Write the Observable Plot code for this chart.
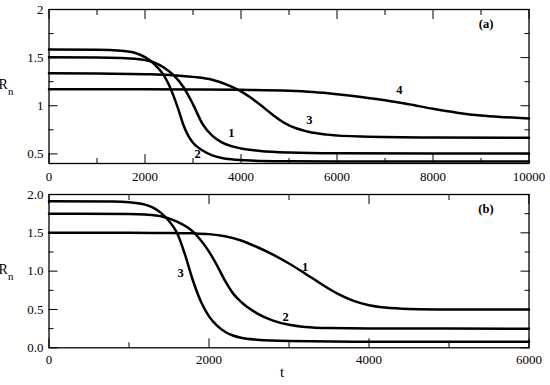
<!DOCTYPE html>
<html><head><meta charset="utf-8">
<script src="https://cdn.jsdelivr.net/npm/d3@7"></script>
<script src="https://cdn.jsdelivr.net/npm/@observablehq/plot@0.6"></script>
<style>body{margin:0;background:#fff}#chart{width:550px;height:385px}svg{display:block}</style>
</head><body><div id="chart"></div>
<script>
// ---------- Panel (a) data ----------
const a1_t = [0, 1000, 1500, 1800, 2000, 2200, 2400, 2600, 2800, 3000, 3200, 3400, 3600, 3800, 4000, 4400, 5000, 6000, 8000, 10000];
const a1_r = [1.503, 1.502, 1.497, 1.488, 1.475, 1.447, 1.395, 1.315, 1.195, 1.015, 0.81, 0.69, 0.62, 0.58, 0.556, 0.530, 0.514, 0.506, 0.503, 0.503];
const a2_t = [0, 1000, 1500, 1800, 2000, 2200, 2400, 2500, 2600, 2700, 2800, 2900, 3000, 3200, 3400, 3600, 3800, 4200, 5000, 6000, 10000];
const a2_r = [1.585, 1.583, 1.572, 1.548, 1.505, 1.43, 1.31, 1.215, 1.095, 0.955, 0.80, 0.69, 0.615, 0.535, 0.485, 0.458, 0.443, 0.43, 0.423, 0.42, 0.42];
const a3_t = [0, 1000, 2000, 2500, 3000, 3400, 3700, 4000, 4200, 4400, 4600, 4800, 5000, 5400, 5800, 6500, 8000, 10000];
const a3_r = [1.337, 1.335, 1.328, 1.32, 1.30, 1.27, 1.22, 1.15, 1.085, 1.01, 0.93, 0.855, 0.795, 0.73, 0.70, 0.68, 0.67, 0.667];
const a4_t = [0, 2000, 3000, 4000, 5000, 5500, 6000, 6500, 7000, 7500, 8000, 8500, 9000, 9500, 10000];
const a4_r = [1.172, 1.171, 1.169, 1.165, 1.155, 1.142, 1.12, 1.092, 1.058, 1.015, 0.968, 0.928, 0.898, 0.881, 0.868];
const aLabelText = ["1", "2", "3", "4"];
const aLabelT = [3802, 3094, 5427, 7302];
const aLabelR = [0.72, 0.502, 0.854, 1.165];
const aXMajor = [0, 2000, 4000, 6000, 8000, 10000];
const aXMinor = [1000, 3000, 5000, 7000, 9000];
const aYMajor = [0.5, 1, 1.5, 2];
const aYMajorLabels = ["0.5", "1", "1.5", "2"];
const aYMinor = [0.75, 1.25, 1.75];

// ---------- Panel (b) data ----------
const b1_t = [0, 1000, 1500, 1800, 2000, 2200, 2400, 2600, 2800, 3000, 3200, 3400, 3600, 3800, 4000, 4200, 4500, 5000, 6000];
const b1_r = [1.5, 1.5, 1.498, 1.493, 1.483, 1.455, 1.40, 1.315, 1.215, 1.10, 0.97, 0.835, 0.71, 0.615, 0.555, 0.525, 0.507, 0.501, 0.5];
const b2_t = [0, 1000, 1200, 1400, 1600, 1800, 1900, 2000, 2100, 2200, 2300, 2400, 2600, 2800, 3000, 3200, 3500, 4000, 6000];
const b2_r = [1.75, 1.746, 1.738, 1.715, 1.645, 1.515, 1.40, 1.255, 1.075, 0.875, 0.71, 0.60, 0.45, 0.355, 0.30, 0.272, 0.257, 0.251, 0.25];
const b3_t = [0, 800, 1000, 1200, 1300, 1400, 1500, 1600, 1700, 1800, 1900, 2000, 2100, 2200, 2300, 2400, 2600, 3000, 4000, 6000];
const b3_r = [1.912, 1.908, 1.898, 1.868, 1.83, 1.76, 1.655, 1.50, 1.215, 0.875, 0.60, 0.41, 0.29, 0.21, 0.16, 0.13, 0.105, 0.088, 0.08, 0.08];
const bLabelText = ["1", "2", "3"];
const bLabelT = [3200, 2959, 1646];
const bLabelR = [1.06, 0.408, 0.982];
const bXMajor = [0, 2000, 4000, 6000];
const bXMinor = [1000, 3000, 5000];
const bYMajor = [0, 0.5, 1, 1.5, 2];
const bYMajorLabels = ["0.0", "0.5", "1.0", "1.5", "2.0"];
const bYMinor = [0.25, 0.75, 1.25, 1.75];

const FONT = "Liberation Serif";

function toRows(ts, rs, id) { return ts.map((t, i) => ({t, r: rs[i], id})); }

function sideTicks(xs, ys, len) {
  const common = {fill: "none", tickFormat: () => "", label: null, stroke: "black", strokeWidth: 1};
  return [
    Plot.axisX({...common, ticks: xs, anchor: "bottom", tickSize: len, dy: -len}),
    Plot.axisX({...common, ticks: xs, anchor: "top", tickSize: len, dy: len}),
    Plot.axisY({...common, ticks: ys, anchor: "left", tickSize: len, dx: len}),
    Plot.axisY({...common, ticks: ys, anchor: "right", tickSize: len, dx: -len})
  ];
}

function panel(cfg) {
  const lines = cfg.series.flatMap(([ts, rs], k) => toRows(ts, rs, k));
  const labels = cfg.labelText.map((s, i) => ({s, t: cfg.labelT[i], r: cfg.labelR[i]}));
  return Plot.plot({
    width: 550,
    height: cfg.height,
    marginLeft: 48.5,
    marginRight: 21.5,
    marginTop: 9,
    marginBottom: cfg.marginBottom,
    style: {fontFamily: FONT, fontSize: "13px", background: "white", color: "black", overflow: "visible"},
    x: {domain: cfg.xDomain, label: null},
    y: {domain: cfg.yDomain, label: null},
    marks: [
      Plot.line(lines, {x: "t", y: "r", z: "id", curve: "monotone-x", stroke: "black", strokeWidth: 2.5}),
      ...sideTicks(cfg.xMajor, cfg.yMajor, 9),
      ...sideTicks(cfg.xMinor, cfg.yMinor, 5),
      Plot.frame({stroke: "black", strokeWidth: 1.3}),
      Plot.axisX({ticks: cfg.xMajor, anchor: "bottom", tickSize: 0, tickPadding: cfg.xPad, tickFormat: d => String(d), label: null}),
      Plot.axisY({ticks: cfg.yMajor, anchor: "left", tickSize: 0, tickPadding: 5.5, tickFormat: d => cfg.yLabels[cfg.yMajor.indexOf(d)], label: null}),
      Plot.text(labels, {x: "t", y: "r", text: "s", fontWeight: "bold", fontSize: 12.5, fill: "black"}),
      Plot.text([cfg.tag], {frameAnchor: "top-right", dx: -43, dy: 10, text: d => d, fontWeight: "bold", fontSize: 12.5, fill: "black", textAnchor: "middle", lineAnchor: "top"})
    ]
  });
}

const svgA = panel({
  series: [[a1_t, a1_r], [a2_t, a2_r], [a3_t, a3_r], [a4_t, a4_r]],
  labelText: aLabelText, labelT: aLabelT, labelR: aLabelR,
  xDomain: [0, 10000], yDomain: [0.4, 2],
  xMajor: aXMajor, xMinor: aXMinor, yMajor: aYMajor, yMinor: aYMinor, yLabels: aYMajorLabels,
  height: 185, marginBottom: 22, xPad: 8, tag: "(a)"
});
const svgB = panel({
  series: [[b1_t, b1_r], [b2_t, b2_r], [b3_t, b3_r]],
  labelText: bLabelText, labelT: bLabelT, labelR: bLabelR,
  xDomain: [0, 6000], yDomain: [0, 2],
  xMajor: bXMajor, xMinor: bXMinor, yMajor: bYMajor, yMinor: bYMinor, yLabels: bYMajorLabels,
  height: 200, marginBottom: 37.7, xPad: 7, tag: "(b)"
});

function addRn(svg) {
  const t = d3.select(svg).append("text")
    .attr("x", 6).attr("y", 88.7)
    .attr("font-family", FONT).attr("font-size", 14).attr("fill", "black")
    .text("R");
  t.append("tspan").attr("font-size", 11).attr("dy", 6.5).text("n");
}
addRn(svgA);
addRn(svgB);
d3.select(svgB).append("text")
  .attr("x", 282).attr("y", 192)
  .attr("font-family", FONT).attr("font-size", 15).attr("fill", "black")
  .attr("text-anchor", "middle").text("t");

const root = document.getElementById("chart");
root.appendChild(svgA);
root.appendChild(svgB);
</script></body></html>
